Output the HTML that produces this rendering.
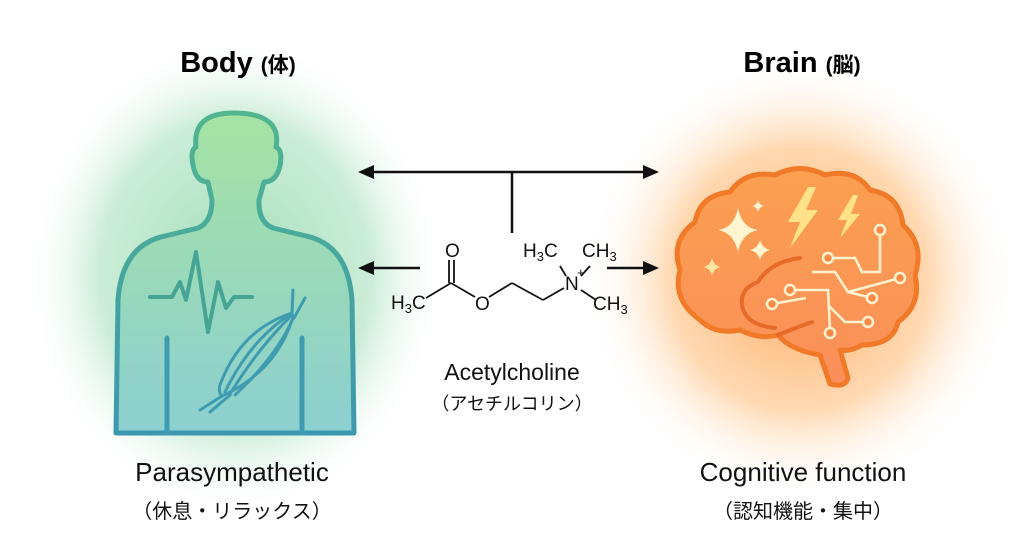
<!DOCTYPE html>
<html><head><meta charset="utf-8"><style>
html,body{margin:0;padding:0;background:#fff;}
svg{display:block;}
text{font-family:"Liberation Sans","Noto Sans CJK JP",sans-serif;}
</style></head><body>
<svg width="1024" height="559" viewBox="0 0 1024 559" xmlns="http://www.w3.org/2000/svg">
<defs>
<radialGradient id="gg" cx="0.5" cy="0.5" r="0.5">
<stop offset="0" stop-color="#9bdcb0" stop-opacity="0.95"/>
<stop offset="0.65" stop-color="#b5e5c8" stop-opacity="0.7"/>
<stop offset="1" stop-color="#ffffff" stop-opacity="0"/>
</radialGradient>
<radialGradient id="og" cx="0.5" cy="0.5" r="0.5">
<stop offset="0" stop-color="#ffa860" stop-opacity="1"/>
<stop offset="0.6" stop-color="#ffc890" stop-opacity="0.7"/>
<stop offset="1" stop-color="#ffffff" stop-opacity="0"/>
</radialGradient>
<linearGradient id="bodyfill" x1="0" y1="0" x2="0" y2="1">
<stop offset="0" stop-color="#a6e3a3"/>
<stop offset="1" stop-color="#8ccfd0"/>
</linearGradient>
<linearGradient id="bodystroke" x1="0" y1="0" x2="0" y2="1">
<stop offset="0" stop-color="#52b58f"/>
<stop offset="1" stop-color="#3d97b0"/>
</linearGradient>
<linearGradient id="brainfill" x1="0" y1="0" x2="0" y2="1">
<stop offset="0" stop-color="#fba050"/>
<stop offset="1" stop-color="#fb8e5a"/>
</linearGradient>
</defs>
<ellipse cx="235" cy="275" rx="210" ry="240" fill="url(#gg)"/>
<ellipse cx="800" cy="278" rx="215" ry="220" fill="url(#og)"/>

<text x="238" y="72" text-anchor="middle" font-size="29" font-weight="bold">Body <tspan font-size="21">(体)</tspan></text>
<text x="802" y="72" text-anchor="middle" font-size="29" font-weight="bold">Brain <tspan font-size="21">(脳)</tspan></text>

<!-- body -->
<path d="M116,433 L118,300 Q122,245 165,236 L198,228 Q212,222 212,200 L208,182 Q196,182 193,165 Q190,150 196,147 Q192,112 236,113 Q282,114 276,147 Q283,150 280,166 Q276,182 264,182 L259,200 Q258,222 273,228 L306,236 Q348,245 352,300 L354,433 Z" fill="url(#bodyfill)" stroke="url(#bodystroke)" stroke-width="5" stroke-linejoin="round"/>
<path d="M167,338 L167,433 M302,338 L302,433" stroke="#3f9cb0" stroke-width="5" stroke-linecap="round" fill="none"/>
<polyline points="150,297 172,297 180,282 186,300 196,252 208,332 218,282 226,308 234,297 252,297" fill="none" stroke="#45a494" stroke-width="4" stroke-linejoin="round" stroke-linecap="round"/>
<g fill="none" stroke="#3f9cb0" stroke-width="3" stroke-linecap="round">
<path d="M292,313 Q240,330 220,385 Q218,392 222,396 Q275,372 292,320"/>
<path d="M292,313 Q250,340 225,392"/>
<path d="M292,315 Q258,348 230,394"/>
<path d="M294,316 Q278,355 235,395"/>
<path d="M292,313 L293,290 M294,318 L305,298"/>
<path d="M222,396 L200,410 M230,395 L210,412"/>
</g>

<!-- arrows -->
<g stroke="#111" stroke-width="2.5" fill="none">
<line x1="370" y1="172" x2="647" y2="172"/>
<line x1="512" y1="172" x2="512" y2="233"/>
<line x1="370" y1="268" x2="420" y2="268"/>
<line x1="607" y1="268" x2="647" y2="268"/>
</g>
<g fill="#111">
<polygon points="358,172 374,165 374,179"/>
<polygon points="659,172 643,165 643,179"/>
<polygon points="358,268 374,261 374,275"/>
<polygon points="659,268 643,261 643,275"/>
</g>

<!-- molecule -->
<g stroke="#111" stroke-width="1.8" fill="none">
<line x1="426" y1="298" x2="451" y2="283"/>
<line x1="451" y1="283" x2="475" y2="297"/>
<line x1="449" y1="283" x2="449" y2="260"/>
<line x1="454" y1="283" x2="454" y2="260"/>
<line x1="489" y1="297" x2="512" y2="283"/>
<line x1="512" y1="283" x2="543" y2="300"/>
<line x1="543" y1="300" x2="564" y2="288"/>
<line x1="560" y1="266" x2="566" y2="276"/>
<line x1="590" y1="266" x2="581" y2="276"/>
<line x1="581" y1="290" x2="596" y2="300"/>
</g>
<g font-size="19" fill="#111">
<text x="445" y="257">O</text>
<text x="475" y="310">O</text>
<text x="391" y="309">H<tspan font-size="13" dy="4">3</tspan><tspan dy="-4">C</tspan></text>
<text x="523" y="257">H<tspan font-size="13" dy="4">3</tspan><tspan dy="-4">C</tspan></text>
<text x="582" y="257">CH<tspan font-size="13" dy="4">3</tspan></text>
<text x="593" y="310">CH<tspan font-size="13" dy="4">3</tspan></text>
<text x="565" y="290">N</text>
<text x="577" y="277" font-size="13">+</text>
</g>
<text x="512" y="380" text-anchor="middle" font-size="23" fill="#111">Acetylcholine</text>
<text x="512" y="410" text-anchor="middle" font-size="18" fill="#111">（アセチルコリン）</text>

<!-- brain -->
<path d="M700,320 Q672,300 680,270 Q670,240 695,222 Q700,195 730,192 Q745,170 775,175 Q800,162 825,175 Q855,168 870,190 Q900,195 903,225 Q925,245 915,275 Q922,305 898,322 Q893,345 862,345 Q850,352 840,350 L848,378 Q845,388 830,384 L820,355 Q790,350 778,335 Q760,340 740,330 Q715,335 700,320 Z" fill="url(#brainfill)" stroke="#f07a28" stroke-width="5" stroke-linejoin="round"/>
<path d="M800,258 Q770,262 758,282 Q740,288 742,305 Q745,325 775,328 M778,335 Q790,330 812,322" fill="none" stroke="#e86a28" stroke-width="4" stroke-linecap="round"/>
<g fill="#fff5d0">
<path d="M738,208 Q742,228 758,230 Q742,233 738,252 Q734,233 718,230 Q734,228 738,208Z"/>
<path d="M760,240 Q762,248 770,250 Q762,252 760,260 Q758,252 750,250 Q758,248 760,240Z"/>
<path d="M758,200 Q759,205 764,206 Q759,207 758,212 Q757,207 752,206 Q757,205 758,200Z"/>
<path d="M712,258 Q714,266 721,267 Q714,268 712,276 Q710,268 703,267 Q710,266 712,258Z" fill="#ffe3a0"/>
</g>
<g fill="#ffe28a">
<polygon points="808,187 788,222 800,222 790,248 818,210 806,210 816,187"/>
<polygon points="853,195 838,220 847,220 840,238 860,214 851,214 858,195"/>
</g>
<g fill="none" stroke="#fff2d0" stroke-width="2.5">
<polyline points="828,258 855,258 862,272 880,272 880,230"/>
<polyline points="812,272 835,272 848,292 900,278"/>
<polyline points="790,290 828,290 830,330"/>
<polyline points="772,304 806,298"/>
<polyline points="828,305 845,322 868,322"/>
<polyline points="848,292 872,298"/>
</g>
<g fill="#f98a45" stroke="#fff2d0" stroke-width="2.5">
<circle cx="880" cy="230" r="5"/><circle cx="828" cy="258" r="5"/><circle cx="900" cy="278" r="5"/>
<circle cx="790" cy="290" r="5"/><circle cx="772" cy="304" r="5"/><circle cx="872" cy="298" r="5"/>
<circle cx="868" cy="322" r="5"/><circle cx="830" cy="333" r="5"/>
</g>

<text x="232" y="481" text-anchor="middle" font-size="26" fill="#111">Parasympathetic</text>
<text x="232" y="518" text-anchor="middle" font-size="20" fill="#111">（休息・リラックス）</text>
<text x="803" y="481" text-anchor="middle" font-size="26" fill="#111">Cognitive function</text>
<text x="803" y="518" text-anchor="middle" font-size="20" fill="#111">（認知機能・集中）</text>
</svg>
</body></html>
